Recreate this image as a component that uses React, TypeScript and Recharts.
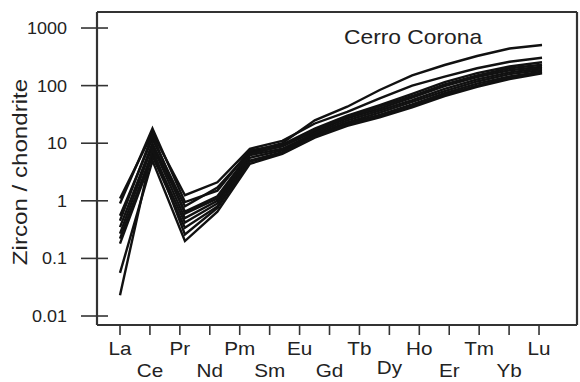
import React from 'react';
import { LineChart, Line, XAxis, YAxis, ReferenceLine } from 'recharts';

// Axis tick labels (all 15 REE positions on the axis)
const axisElements = ['La', 'Ce', 'Pr', 'Nd', 'Pm', 'Sm', 'Eu', 'Gd', 'Tb', 'Dy', 'Ho', 'Er', 'Tm', 'Yb', 'Lu'];
// Elements actually analysed (Pm absent) - plotted evenly across the axis span
const analysed = ['La', 'Ce', 'Pr', 'Nd', 'Sm', 'Eu', 'Gd', 'Tb', 'Dy', 'Ho', 'Er', 'Tm', 'Yb', 'Lu'];
const yTicks = [0.01, 0.1, 1, 10, 100, 1000];

// Zircon / chondrite values per sample (La..Lu without Pm)
const sampleA = [0.55, 12, 0.8, 1.7, 7.0, 10, 25, 43, 84, 150, 228, 327, 440, 507];
const sampleB = [1.1, 15, 1.25, 2.1, 8.0, 11, 22, 35, 60, 100, 143, 200, 260, 305];
const sampleC = [0.9, 18, 0.95, 1.5, 7.5, 9.5, 18, 30, 46, 72, 115, 165, 215, 254];
const sampleD = [0.35, 10, 0.65, 1.2, 6.8, 8.8, 16, 27, 40, 62, 98, 140, 185, 213];
const sampleE = [0.27, 9, 0.5, 1.0, 6.2, 8.0, 15, 25, 37, 56, 88, 128, 170, 200];
const sampleF = [0.22, 7, 0.42, 0.9, 5.6, 7.5, 14, 23, 34, 52, 80, 118, 158, 187];
const sampleG = [0.18, 6, 0.34, 0.8, 5.0, 7.0, 13.5, 22, 31, 47, 74, 108, 145, 175];
const sampleH = [0.056, 5, 0.2, 0.65, 4.4, 6.5, 12.5, 20, 28, 42, 66, 95, 130, 164];
const sampleI = [0.023, 8, 0.26, 0.75, 4.8, 6.8, 13, 21, 30, 45, 70, 100, 138, 170];
const sampleJ = [0.45, 14, 0.6, 1.1, 6.5, 9.0, 17, 28, 43, 66, 105, 150, 200, 230];

const samples: Record<string, number[]> = {
  A: sampleA, B: sampleB, C: sampleC, D: sampleD, E: sampleE,
  F: sampleF, G: sampleG, H: sampleH, I: sampleI, J: sampleJ,
};
const seriesKeys = Object.keys(samples);

// analysed elements spread over the La..Lu span (slightly overshooting Lu as in the original)
const dataSpan = 14.1;
const rows = analysed.map((el, i) => {
  const row: Record<string, number | string> = { el, x: (i * dataSpan) / (analysed.length - 1) };
  seriesKeys.forEach((k) => { row[k] = samples[k][i]; });
  return row;
});

const FONT = '"Liberation Sans", Arial, Helvetica, sans-serif';
const INK = '#222';
const AXIS = '#333';

const X_MIN = -0.7685;
const X_MAX = 15.269;
const Y_MIN = 0.00698;
const Y_MAX = 1897;

const XTick = (props: any) => {
  const { x, y, payload } = props;
  const idx = Math.round(payload.value);
  const label = axisElements[idx] ?? '';
  const second = idx % 2 === 1;
  let dy = second ? 40 : 18;
  if (label === 'Dy') dy = 37;
  return (
    <g transform={`translate(${x},${y + dy}) scale(1.15,1)`}>
      <text x={0} y={0} textAnchor="middle" fontFamily={FONT} fontSize={18} fill={INK}>
        {label}
      </text>
    </g>
  );
};

const YTick = (props: any) => {
  const { x, y, payload } = props;
  return (
    <g>
      <line x1={x + 14} x2={x + 41} y1={y} y2={y} stroke={AXIS} strokeWidth={1.6} />
      <g transform={`translate(${x},${y + 6}) scale(1.06,1)`}>
        <text x={0} y={0} textAnchor="end" fontFamily={FONT} fontSize={17} fill={INK}>
          {String(payload.value)}
        </text>
      </g>
    </g>
  );
};

const YTitle = () => (
  <g transform="translate(27,172) rotate(-90) scale(1.15,1)">
    <text x={0} y={0} textAnchor="middle" fontFamily={FONT} fontSize={21} fill={INK}>
      Zircon / chondrite
    </text>
  </g>
);

const PlotTitle = () => (
  <g transform="translate(344,44) scale(1.14,1)">
    <text x={0} y={0} textAnchor="start" fontFamily={FONT} fontSize={20} fill={INK}>
      Cerro Corona
    </text>
  </g>
);

export default function App() {
  return (
    <div style={{ position: 'absolute', left: 0, top: 0, width: 580, height: 382, background: '#fff' }}>
      <LineChart width={580} height={382} data={rows} margin={{ top: 12, right: 3, bottom: 0, left: 0 }}>
        <XAxis
          type="number"
          dataKey="x"
          domain={[X_MIN, X_MAX]}
          allowDataOverflow
          ticks={axisElements.map((_, i) => i)}
          interval={0}
          height={57}
          tickSize={10}
          tickMargin={2}
          tickLine={{ stroke: AXIS, strokeWidth: 1.6 }}
          axisLine={{ stroke: AXIS, strokeWidth: 2.2 }}
          tick={<XTick />}
          label={<PlotTitle />}
        />
        <YAxis
          type="number"
          scale="log"
          domain={[Y_MIN, Y_MAX]}
          allowDataOverflow
          ticks={yTicks}
          interval={0}
          width={97}
          tickSize={16}
          tickMargin={14}
          tickLine={false}
          axisLine={{ stroke: AXIS, strokeWidth: 2.2 }}
          tick={<YTick />}
          label={<YTitle />}
        />
        <ReferenceLine y={Y_MAX} stroke={AXIS} strokeWidth={2.2} />
        <ReferenceLine x={X_MAX} stroke={AXIS} strokeWidth={2.2} />
        {seriesKeys.map((k) => (
          <Line
            key={k}
            type="linear"
            dataKey={k}
            stroke="#111"
            strokeWidth={2.4}
            dot={false}
            activeDot={false}
            isAnimationActive={false}
          />
        ))}
      </LineChart>
    </div>
  );
}
